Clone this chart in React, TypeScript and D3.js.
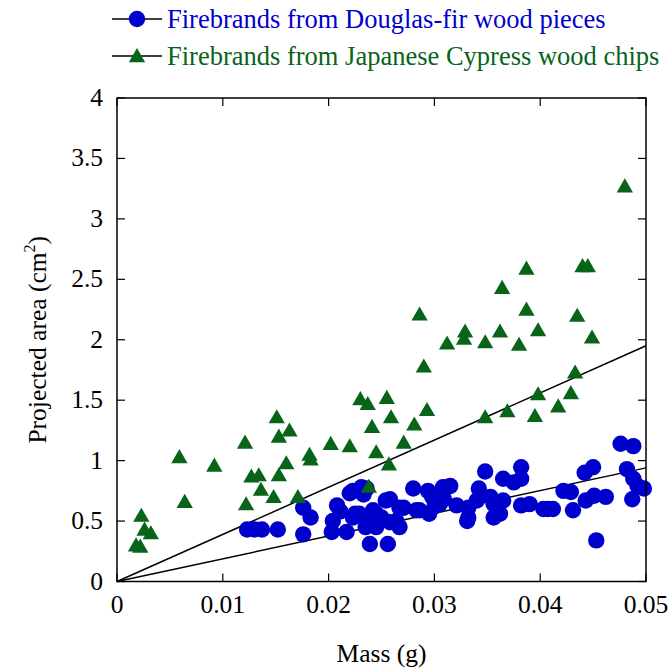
import React from "react";
import * as d3 from "d3";

const xTicks = [0, 0.01, 0.02, 0.03, 0.04, 0.05];
const xTickLabels = ["0", "0.01", "0.02", "0.03", "0.04", "0.05"];
const yTicks = [0, 0.5, 1, 1.5, 2, 2.5, 3, 3.5, 4];
const yTickLabels = ["0", "0.5", "1", "1.5", "2", "2.5", "3", "3.5", "4"];

const seriesNames = [
  "Firebrands from Douglas-fir wood pieces",
  "Firebrands from Japanese Cypress wood chips",
];

// Douglas-fir (blue circles): mass (g), projected area (cm2)
const douglasMass = [
  0.0123, 0.013, 0.0137, 0.0152, 0.0176, 0.0183, 0.0176, 0.0203, 0.0204, 0.0208,
  0.0211, 0.0217, 0.022, 0.0223, 0.0223, 0.0225, 0.0229, 0.0231, 0.0233, 0.0235,
  0.0236, 0.0237, 0.0239, 0.0242, 0.0245, 0.0245, 0.025, 0.0251, 0.0254, 0.0256,
  0.0258, 0.0258, 0.0264, 0.0267, 0.0267, 0.0271, 0.028, 0.0283, 0.0286, 0.0294,
  0.0295, 0.0298, 0.03, 0.0305, 0.0306, 0.0308, 0.0309, 0.0312, 0.0315, 0.0321,
  0.0332, 0.0332, 0.0331, 0.034, 0.0342, 0.0348, 0.0353, 0.0356, 0.0356, 0.0359,
  0.0362, 0.0365, 0.0365, 0.0375, 0.0382, 0.0382, 0.0382, 0.039, 0.0403, 0.0407,
  0.0412, 0.0422, 0.0429, 0.0431, 0.0442, 0.0443, 0.045, 0.0451, 0.0453, 0.0462,
  0.0476, 0.0482, 0.0488, 0.0488, 0.0487, 0.0492, 0.0498,
];
const douglasArea = [
  0.43, 0.43, 0.43, 0.43, 0.61, 0.53, 0.39, 0.41, 0.5, 0.63,
  0.58, 0.41, 0.73, 0.53, 0.75, 0.56, 0.56, 0.78, 0.72, 0.45,
  0.77, 0.54, 0.31, 0.59, 0.45, 0.56, 0.53, 0.51, 0.67, 0.31,
  0.49, 0.68, 0.5, 0.45, 0.61, 0.61, 0.77, 0.59, 0.59, 0.75,
  0.56, 0.7, 0.62, 0.64, 0.73, 0.78, 0.68, 0.78, 0.79, 0.63,
  0.61, 0.53, 0.5, 0.67, 0.77, 0.91, 0.7, 0.64, 0.53, 0.61,
  0.56, 0.85, 0.67, 0.82, 0.945, 0.85, 0.63, 0.64, 0.6, 0.6,
  0.6, 0.75, 0.74, 0.59, 0.9, 0.67, 0.945, 0.71, 0.34, 0.7,
  1.14, 0.93, 1.12, 0.85, 0.68, 0.79, 0.77,
];

// Japanese Cypress (green triangles)
const cypressMass = [
  0.0018, 0.0022, 0.0023, 0.0026, 0.0032, 0.0059, 0.0064, 0.0092, 0.0121, 0.0122,
  0.0127, 0.0134, 0.0136, 0.0148, 0.0151, 0.0153, 0.0153, 0.016, 0.0163, 0.0171,
  0.0182, 0.0183, 0.0202, 0.022, 0.023, 0.0237, 0.0238, 0.0241, 0.0245, 0.0255,
  0.0257, 0.0259, 0.0271, 0.0281, 0.0286, 0.029, 0.0293, 0.0312, 0.0328, 0.0329,
  0.0348, 0.0348, 0.0362, 0.0364, 0.0369, 0.038, 0.0387, 0.0387, 0.0395, 0.0398,
  0.0398, 0.0417, 0.0429, 0.0433, 0.0435, 0.044, 0.0445, 0.0449, 0.048,
];
const cypressArea = [
  0.3, 0.29, 0.545, 0.43, 0.4, 1.03, 0.66, 0.96, 1.15, 0.64,
  0.87, 0.88, 0.76, 0.7, 1.36, 1.2, 0.88, 0.98, 1.25, 0.7,
  1.05, 1.01, 1.14, 1.12, 1.51, 1.47, 0.785, 1.28, 1.07, 1.52,
  0.97, 1.36, 1.15, 1.3, 2.21, 1.78, 1.42, 1.97, 2.01, 2.07,
  1.98, 1.36, 2.07, 2.43, 1.41, 1.96, 2.59, 2.25, 1.37, 2.08,
  1.55, 1.45, 1.56, 1.73, 2.2, 2.61, 2.61, 2.02, 3.27,
];

// Linear fits through the origin: area = slope * mass
const fitSlopes = [18.8, 39.0];
const fitMassRange = [0, 0.05];

const BLUE = "#0000cd";
const GREEN = "#076419";
const FONT = "'Liberation Serif', 'Times New Roman', serif";

export default function App() {
  const W = 670;
  const H = 669;
  const left = 117;
  const right = 646;
  const top = 98;
  const bottom = 581.5;

  const x = d3.scaleLinear().domain([0, 0.05]).range([left, right]);
  const y = d3.scaleLinear().domain([0, 4]).range([bottom, top]);

  const line = d3
    .line<[number, number]>()
    .x((d) => x(d[0]))
    .y((d) => y(d[1]));

  const tri = d3.symbol().type(d3.symbolTriangle).size(115)();
  const tick = 8;
  const r = 8.2;

  return (
    <svg
      width={W}
      height={H}
      style={{ position: "absolute", left: 0, top: 0, background: "#fff" }}
      fontFamily={FONT}
    >
      {fitSlopes.map((s, i) => (
        <path
          key={"fit" + i}
          d={line(fitMassRange.map((m) => [m, s * m]) as [number, number][]) || ""}
          stroke="#000"
          strokeWidth={1.5}
          fill="none"
        />
      ))}

      {douglasMass.map((m, i) => (
        <circle key={"d" + i} cx={x(m)} cy={y(douglasArea[i])} r={r} fill={BLUE} />
      ))}

      {cypressMass.map((m, i) => (
        <path
          key={"c" + i}
          d={tri || ""}
          transform={`translate(${x(m)},${y(cypressArea[i]) + 1.5})`}
          fill={GREEN}
        />
      ))}

      <rect
        x={left}
        y={top}
        width={right - left}
        height={bottom - top}
        fill="none"
        stroke="#000"
        strokeWidth={1.5}
      />

      {xTicks.map((t, i) => (
        <g key={"xt" + i}>
          <line x1={x(t)} x2={x(t)} y1={bottom} y2={bottom - tick} stroke="#000" strokeWidth={1.2} />
          <line x1={x(t)} x2={x(t)} y1={top} y2={top + tick} stroke="#000" strokeWidth={1.2} />
          <text x={x(t)} y={613} textAnchor="middle" fontSize={25.5} fill="#000">
            {xTickLabels[i]}
          </text>
        </g>
      ))}

      {yTicks.map((t, i) => (
        <g key={"yt" + i}>
          <line x1={left} x2={left + tick} y1={y(t)} y2={y(t)} stroke="#000" strokeWidth={1.2} />
          <line x1={right} x2={right - tick} y1={y(t)} y2={y(t)} stroke="#000" strokeWidth={1.2} />
          <text x={103} y={y(t) + 8} textAnchor="end" fontSize={25.5} fill="#000">
            {yTickLabels[i]}
          </text>
        </g>
      ))}

      <text x={(left + right) / 2} y={662} textAnchor="middle" fontSize={25.5} fill="#000">
        Mass (g)
      </text>
      <text
        transform={`translate(46,${(top + bottom) / 2}) rotate(-90)`}
        textAnchor="middle"
        fontSize={25.5}
        fill="#000"
      >
        Projected area (cm
        <tspan dy={-11} fontSize={16}>2</tspan>
        <tspan dy={11}>)</tspan>
      </text>

      <g>
        <line x1={112} x2={162} y1={19} y2={19} stroke="#000" strokeWidth={1.5} />
        <circle cx={137} cy={19} r={r} fill={BLUE} />
        <text x={167} y={28} fontSize={26.5} fill={BLUE}>
          {seriesNames[0]}
        </text>
        <line x1={112} x2={162} y1={56} y2={56} stroke="#000" strokeWidth={1.5} />
        <path d={tri || ""} transform="translate(137,57.5)" fill={GREEN} />
        <text x={167} y={65} fontSize={26.5} fill={GREEN}>
          {seriesNames[1]}
        </text>
      </g>
    </svg>
  );
}
